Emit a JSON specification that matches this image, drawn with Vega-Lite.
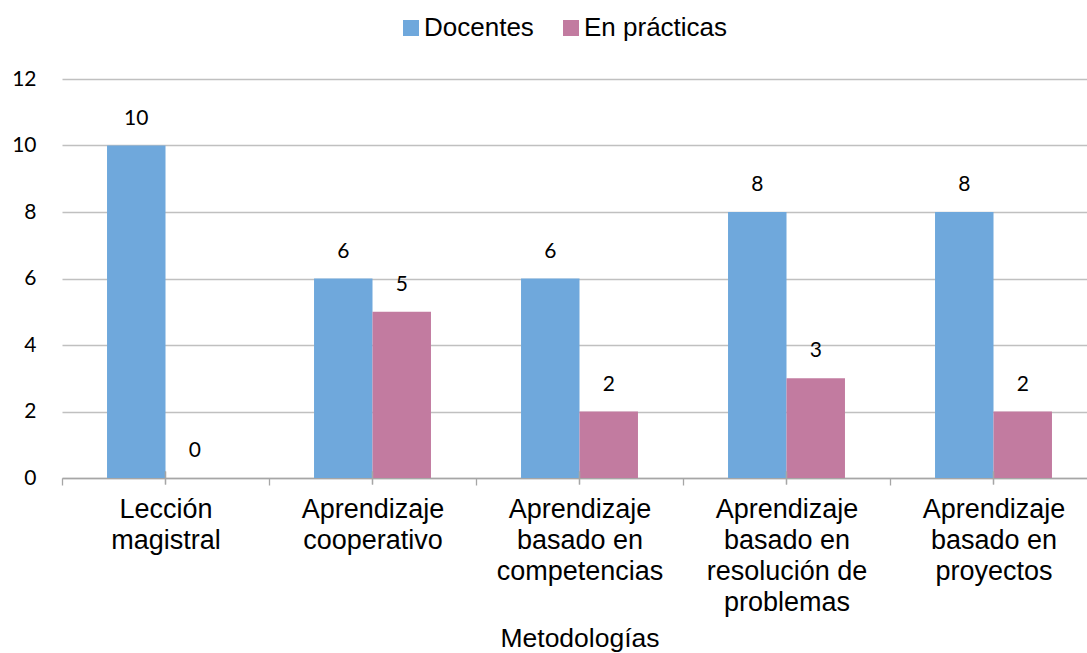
{
  "$schema": "https://vega.github.io/schema/vega-lite/v6.json",
  "autosize": "none",
  "width": 1025,
  "height": 399,
  "padding": {"left": 62, "top": 79, "right": 0, "bottom": 175},
  "background": "white",
  "config": {
    "view": {"stroke": null},
    "axis": {"labelColor": "black", "titleColor": "black"}
  },
  "data": {
    "values": [
      {"metodo": "Lección|magistral", "serie": "Docentes", "valor": 10},
      {"metodo": "Lección|magistral", "serie": "En prácticas", "valor": 0},
      {"metodo": "Aprendizaje|cooperativo", "serie": "Docentes", "valor": 6},
      {"metodo": "Aprendizaje|cooperativo", "serie": "En prácticas", "valor": 5},
      {"metodo": "Aprendizaje|basado en|competencias", "serie": "Docentes", "valor": 6},
      {"metodo": "Aprendizaje|basado en|competencias", "serie": "En prácticas", "valor": 2},
      {"metodo": "Aprendizaje|basado en|resolución de|problemas", "serie": "Docentes", "valor": 8},
      {"metodo": "Aprendizaje|basado en|resolución de|problemas", "serie": "En prácticas", "valor": 3},
      {"metodo": "Aprendizaje|basado en|proyectos", "serie": "Docentes", "valor": 8},
      {"metodo": "Aprendizaje|basado en|proyectos", "serie": "En prácticas", "valor": 2}
    ]
  },
  "encoding": {
    "x": {
      "field": "metodo",
      "type": "nominal",
      "sort": null,
      "scale": {"range": [0, 1035], "paddingInner": 0, "paddingOuter": 0},
      "axis": {
        "title": "Metodologías",
        "titleFont": "Liberation Sans",
        "titleFontSize": 26.5,
        "titleFontWeight": "normal",
        "titlePadding": 10,
        "labelAngle": 0,
        "labelExpr": "split(datum.label, '|')",
        "labelFont": "Liberation Sans",
        "labelFontSize": 27,
        "labelLineHeight": 31,
        "labelPadding": 11,
        "labelBaseline": "top",
        "labelLimit": 0,
        "tickBand": "extent",
        "tickSize": 7,
        "tickColor": "#a6a6a6",
        "tickWidth": 1.3,
        "domainColor": "#a6a6a6",
        "domainWidth": 1.3,
        "grid": false,
        "encode": {"ticks": {"update": {"y": {"value": -6}}}}
      }
    }
  },
  "layer": [
    {
      "mark": {"type": "bar"},
      "encoding": {
        "xOffset": {
          "field": "serie",
          "type": "nominal",
          "scale": {"paddingInner": 0, "paddingOuter": 0.77}
        },
        "y": {
          "field": "valor",
          "type": "quantitative",
          "scale": {"domain": [0, 12], "nice": false},
          "axis": {
            "title": null,
            "values": [0, 2, 4, 6, 8, 10, 12],
            "domain": false,
            "ticks": false,
            "grid": true,
            "gridColor": "#c0c0c0",
            "gridWidth": 1.3,
            "labelFont": "Lato",
            "labelFontSize": 21,
            "labelPadding": 26
          }
        },
        "color": {
          "field": "serie",
          "type": "nominal",
          "scale": {"domain": ["Docentes", "En prácticas"], "range": ["#6fa8dc", "#c27ba0"]},
          "legend": {
            "title": null,
            "orient": "none",
            "direction": "horizontal",
            "legendX": 336,
            "legendY": -64,
            "symbolType": "square",
            "symbolSize": 256,
            "symbolStrokeWidth": 0,
            "labelFont": "Liberation Sans",
            "labelFontSize": 26,
            "labelColor": "black",
            "labelOffset": 0,
            "columnPadding": 24,
            "padding": 0
          }
        }
      }
    },
    {
      "mark": {"type": "text", "baseline": "middle", "dy": -27, "font": "Lato", "fontSize": 21, "color": "black"},
      "encoding": {
        "xOffset": {"field": "serie", "type": "nominal"},
        "y": {"field": "valor", "type": "quantitative"},
        "text": {"field": "valor", "type": "quantitative"}
      }
    },
    {
      "mark": {"type": "tick", "orient": "vertical", "size": 13, "thickness": 1.3, "color": "#a6a6a6", "opacity": 1},
      "encoding": {
        "y": {"datum": 0}
      }
    }
  ]
}
